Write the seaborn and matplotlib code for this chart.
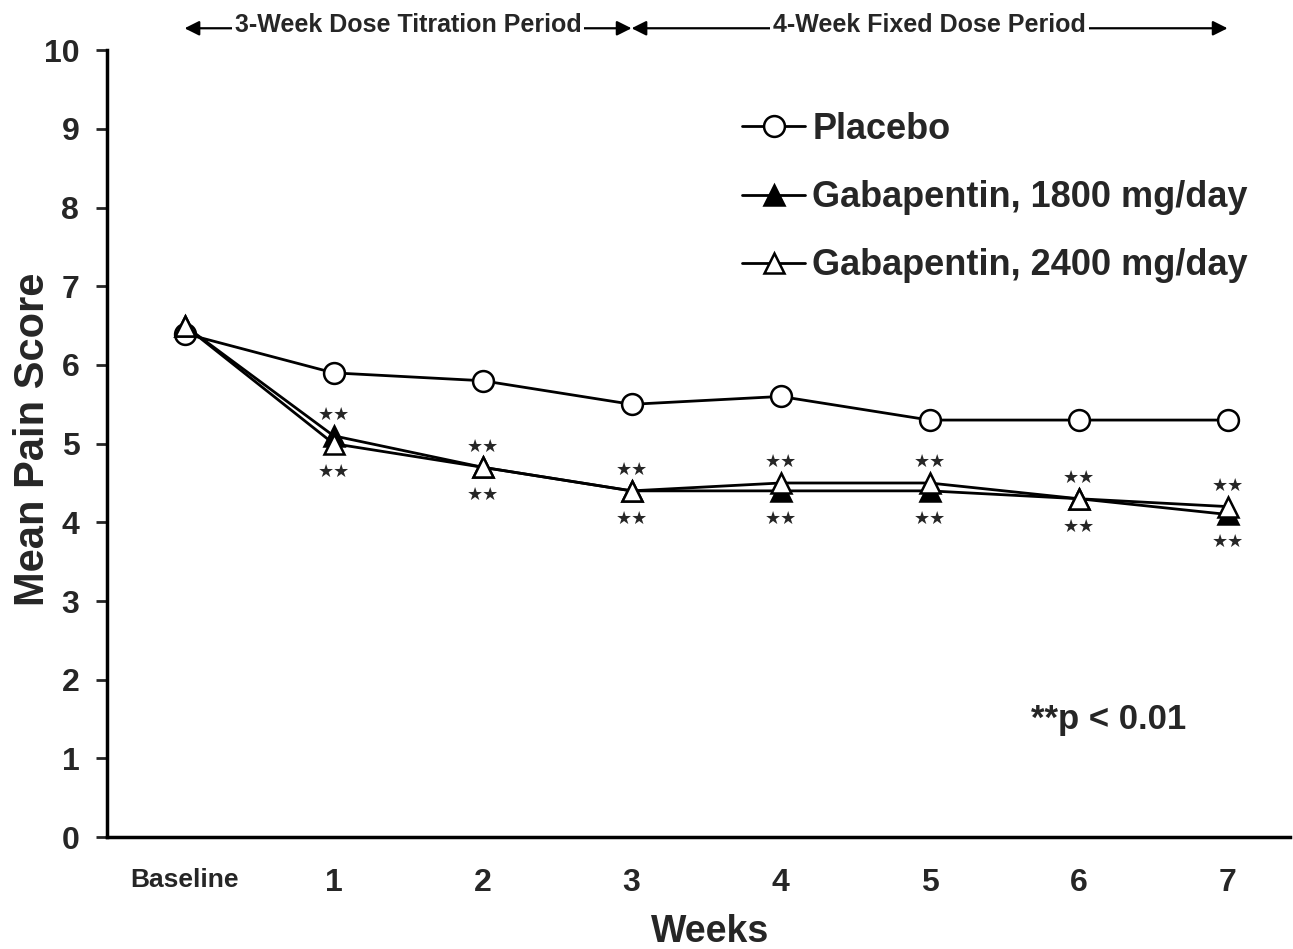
import matplotlib
matplotlib.use('Agg')
import matplotlib.pyplot as plt
import seaborn as sns
import pandas as pd

# data
weeks = [0, 1, 2, 3, 4, 5, 6, 7]
week_labels = ['Baseline', '1', '2', '3', '4', '5', '6', '7']
placebo = [6.4, 5.9, 5.8, 5.5, 5.6, 5.3, 5.3, 5.3]
gaba_1800 = [6.5, 5.1, 4.7, 4.4, 4.4, 4.4, 4.3, 4.1]
gaba_2400 = [6.5, 5.0, 4.7, 4.4, 4.5, 4.5, 4.3, 4.2]
sig_weeks = [1, 2, 3, 4, 5, 6, 7]
periods = [(0, 3, '3-Week Dose Titration Period'), (3, 7, '4-Week Fixed Dose Period')]

sns.set_style("ticks")
plt.rcParams['font.family'] = ['Liberation Sans', 'DejaVu Sans']

df = pd.DataFrame({'week': weeks, 'placebo': placebo,
                   'g1800': gaba_1800, 'g2400': gaba_2400})

fig = plt.figure(figsize=(12.93, 9.49), dpi=100)
ax = fig.add_axes([0.0828, 0.118, 0.915, 0.829])

common = dict(color='black', linewidth=2.0, markersize=15, markeredgewidth=1.8,
              markeredgecolor='black')
sns.lineplot(data=df, x='week', y='placebo', ax=ax, marker='o',
             markerfacecolor='white', label='Placebo', **common)
sns.lineplot(data=df, x='week', y='g1800', ax=ax, marker='^',
             markerfacecolor='black', label='Gabapentin, 1800 mg/day', **common)
sns.lineplot(data=df, x='week', y='g2400', ax=ax, marker='^',
             markerfacecolor='white', label='Gabapentin, 2400 mg/day', **common)

# significance stars above and below the gabapentin points
for w in sig_weeks:
    top = max(gaba_1800[w], gaba_2400[w])
    bot = min(gaba_1800[w], gaba_2400[w])
    ax.annotate('\u2605\u2605', (w, top), xytext=(0, 15), textcoords='offset points',
                ha='center', va='center', fontsize=13, family='DejaVu Sans')
    ax.annotate('\u2605\u2605', (w, bot), xytext=(0, -20), textcoords='offset points',
                ha='center', va='center', fontsize=13, family='DejaVu Sans')

# period arrows above the plot
for x0, x1, txt in periods:
    ax.annotate('', xy=(x0, 10.28), xytext=(x1, 10.28), xycoords='data',
                arrowprops=dict(arrowstyle='<|-|>', color='black', lw=1.6,
                                mutation_scale=22, shrinkA=0, shrinkB=0),
                annotation_clip=False)
    ax.text((x0 + x1) / 2, 10.32, txt, ha='center', va='center', fontsize=18,
            fontweight='bold', clip_on=False,
            bbox=dict(facecolor='white', edgecolor='none', pad=2))

ax.text(5.68, 1.49, '**p < 0.01', ha='left', va='center', fontsize=25,
        fontweight='bold')

ax.set_xlim(-0.52, 7.42)
ax.set_ylim(0, 10)
ax.set_yticks(range(0, 11))
ax.set_xticks(weeks)
ax.set_xticklabels(week_labels)
for lab in ax.get_yticklabels():
    lab.set_fontsize(23)
    lab.set_fontweight('bold')
for i, lab in enumerate(ax.get_xticklabels()):
    lab.set_fontsize(19 if i == 0 else 23)
    lab.set_fontweight('bold')
ax.tick_params(axis='y', length=8, width=2, pad=12, direction='out')
ax.tick_params(axis='x', length=0, pad=22)

ax.set_ylabel('Mean Pain Score', fontsize=30, fontweight='bold')
ax.yaxis.set_label_coords(-0.046, 0.506)
ax.set_xlabel('Weeks', fontsize=27, fontweight='bold')
ax.xaxis.set_label_coords(0.51, -0.098)

sns.despine(ax=ax)
for side in ['left', 'bottom']:
    ax.spines[side].set_linewidth(2.5)
    ax.spines[side].set_color('black')

ax.legend(loc='upper left', bbox_to_anchor=(742 / 1293, 1 - 112 / 949),
          bbox_transform=fig.transFigure, frameon=False,
          prop={'weight': 'bold', 'size': 26}, handlelength=1.75,
          handletextpad=0.2, labelspacing=0.92, borderpad=0, borderaxespad=0)

fig.savefig('out.png', dpi=100, facecolor='white')
